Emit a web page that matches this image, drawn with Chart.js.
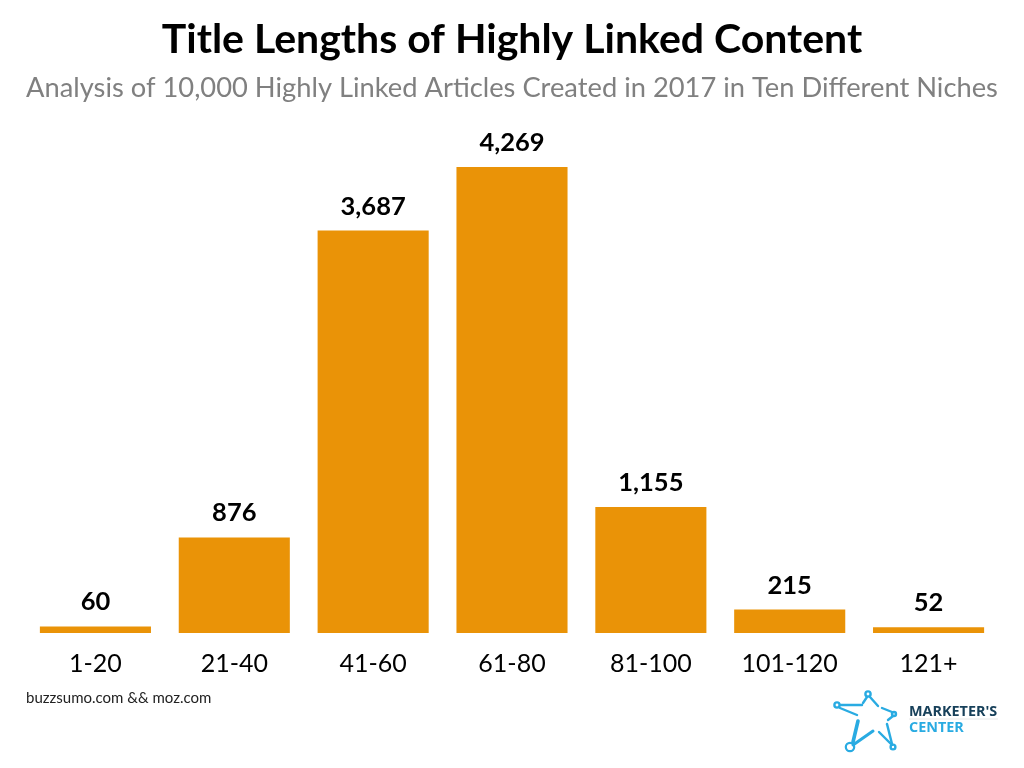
<!DOCTYPE html>
<html>
<head>
<meta charset="utf-8">
<title>Title Lengths of Highly Linked Content</title>
<script src="https://cdn.jsdelivr.net/npm/chart.js@4/dist/chart.umd.min.js"></script>
<style>
  html, body { margin: 0; padding: 0; background: #fff; }
  #wrap { position: relative; width: 1024px; height: 768px; overflow: hidden; }
  #logo { position: absolute; left: 832px; top: 688px; }
  #source { position: absolute; left: 26px; top: 688px; font: 15px Lato, sans-serif; color: #222; }
</style>
</head>
<body>
<div id="wrap">
  <canvas id="myChart" width="1024" height="768"></canvas>
  <div id="source">buzzsumo.com &amp;&amp; moz.com</div>
  <svg id="logo" width="180" height="72" viewBox="0 0 180 72">
    <g fill="none" stroke="#29abe2" stroke-width="2.4" stroke-linecap="round">
      <circle cx="36" cy="6" r="2.6"/>
      <circle cx="5" cy="17" r="2.6"/>
      <circle cx="62" cy="26" r="2"/>
      <circle cx="18" cy="59" r="4.2" stroke-width="2.2"/>
      <circle cx="61" cy="59" r="2.4"/>
      <path d="M8 17 L30 17"/>
      <path d="M8 20 L25 27"/>
      <path d="M35 9 L31 15"/>
      <path d="M38 9 L46 18"/>
      <path d="M50 20 L60 24"/>
      <path d="M61 28 L56 32"/>
      <path d="M26 33 L21 54" stroke-width="3.6"/>
      <path d="M21 57 L41 43" stroke-width="3"/>
      <path d="M47 44 L60 57"/>
      <path d="M55 36 L60 56"/>
    </g>
    <text x="77" y="28" font-family="'Open Sans', sans-serif" font-weight="700" font-size="14.4" fill="#17405a">MARKETER'S</text>
    <line x1="77" y1="31" x2="166" y2="31" stroke="#e8e8e8" stroke-width="1"/>
    <text x="77" y="44" font-family="'Open Sans', sans-serif" font-weight="700" font-size="14.4" fill="#29abe2">CENTER</text>
  </svg>
</div>
<script>
const categories = ['1-20', '21-40', '41-60', '61-80', '81-100', '101-120', '121+'];
const articleCounts = [60, 876, 3687, 4269, 1155, 215, 52];

// draws the number over each bar
const barLabels = {
    id: 'barLabels',
    afterDatasetsDraw(chart) {
        const ctx = chart.ctx;
        const meta = chart.getDatasetMeta(0);
        ctx.save();
        ctx.font = 'bold 25.5px Lato, sans-serif';
        ctx.fillStyle = '#000';
        ctx.textAlign = 'center';
        ctx.textBaseline = 'alphabetic';
        meta.data.forEach((bar, i) => {
            ctx.fillText(articleCounts[i].toLocaleString('en-US'), bar.x, bar.y - 16);
        });
        ctx.restore();
    }
};

const ctx = document.getElementById('myChart').getContext('2d');
const myChart = new Chart(ctx, {
    type: 'bar',
    data: {
        labels: categories,
        datasets: [{
            data: articleCounts,
            backgroundColor: '#ea9307',
            barPercentage: 0.8,
            categoryPercentage: 1
        }]
    },
    options: {
        responsive: false,
        animation: false,
        layout: { padding: { left: 26, right: 26, top: 0, bottom: 81 } },
        scales: {
            x: {
                grid: { display: false },
                border: { display: false },
                ticks: {
                    color: '#000',
                    padding: 8,
                    maxRotation: 0,
                    font: { family: 'Lato, sans-serif', size: 25 }
                }
            },
            y: {
                display: false,
                min: 0,
                max: 4600
            }
        },
        plugins: {
            legend: { display: false },
            tooltip: { enabled: false },
            title: {
                display: true,
                text: 'Title Lengths of Highly Linked Content',
                color: '#000',
                font: { family: 'Lato, sans-serif', size: 41, weight: 'bold' },
                padding: { top: 15, bottom: 8 }
            },
            subtitle: {
                display: true,
                text: 'Analysis of 10,000 Highly Linked Articles Created in 2017 in Ten Different Niches',
                color: '#808080',
                font: { family: 'Lato, sans-serif', size: 27.3 },
                padding: { top: 0, bottom: 26 }
            }
        }
    },
    plugins: [barLabels]
});
</script>
</body>
</html>
